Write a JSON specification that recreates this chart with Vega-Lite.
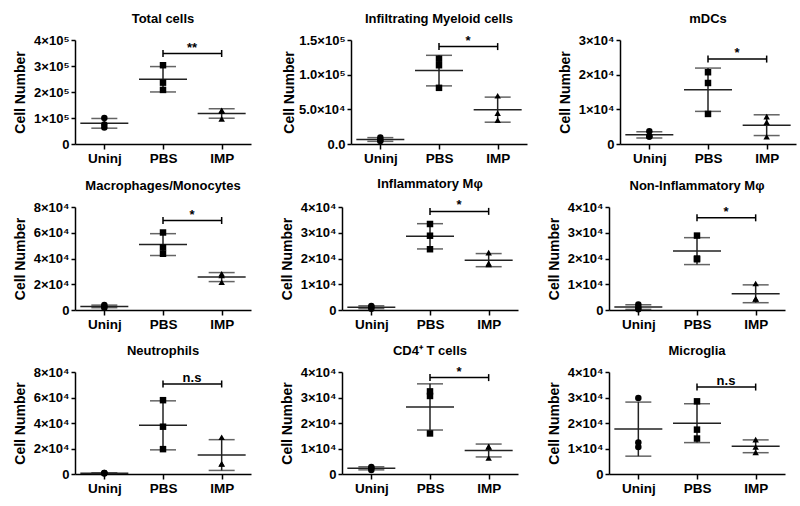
{
  "$schema": "https://vega.github.io/schema/vega-lite/v6.json",
  "background": "white",
  "padding": {"left": 13, "top": 13, "right": 5, "bottom": 5},
  "data": {"values": [
    {"panel": "Total cells", "group": "Uninj", "value": 100000},
    {"panel": "Total cells", "group": "Uninj", "value": 63500},
    {"panel": "Total cells", "group": "Uninj", "value": 75000},
    {"panel": "Total cells", "group": "PBS", "value": 303000},
    {"panel": "Total cells", "group": "PBS", "value": 236000},
    {"panel": "Total cells", "group": "PBS", "value": 208000},
    {"panel": "Total cells", "group": "IMP", "value": 130000},
    {"panel": "Total cells", "group": "IMP", "value": 96500},
    {"panel": "Total cells", "group": "IMP", "value": 125700},
    {"panel": "Total cells", "group": "PBS", "group2": "IMP", "value": 348000, "label": "**"},

    {"panel": "Infiltrating Myeloid cells", "group": "Uninj", "value": 9500},
    {"panel": "Infiltrating Myeloid cells", "group": "Uninj", "value": 4300},
    {"panel": "Infiltrating Myeloid cells", "group": "Uninj", "value": 5700},
    {"panel": "Infiltrating Myeloid cells", "group": "PBS", "value": 123000},
    {"panel": "Infiltrating Myeloid cells", "group": "PBS", "value": 113600},
    {"panel": "Infiltrating Myeloid cells", "group": "PBS", "value": 81000},
    {"panel": "Infiltrating Myeloid cells", "group": "IMP", "value": 69600},
    {"panel": "Infiltrating Myeloid cells", "group": "IMP", "value": 44500},
    {"panel": "Infiltrating Myeloid cells", "group": "IMP", "value": 34500},
    {"panel": "Infiltrating Myeloid cells", "group": "PBS", "group2": "IMP", "value": 140500, "label": "*"},

    {"panel": "mDCs", "group": "Uninj", "value": 3700},
    {"panel": "mDCs", "group": "Uninj", "value": 2140},
    {"panel": "mDCs", "group": "Uninj", "value": 2140},
    {"panel": "mDCs", "group": "PBS", "value": 20700},
    {"panel": "mDCs", "group": "PBS", "value": 17600},
    {"panel": "mDCs", "group": "PBS", "value": 8670},
    {"panel": "mDCs", "group": "IMP", "value": 7900},
    {"panel": "mDCs", "group": "IMP", "value": 6300},
    {"panel": "mDCs", "group": "IMP", "value": 2100},
    {"panel": "mDCs", "group": "PBS", "group2": "IMP", "value": 24500, "label": "*"},

    {"panel": "Macrophages/Monocytes", "group": "Uninj", "value": 3800},
    {"panel": "Macrophages/Monocytes", "group": "Uninj", "value": 1800},
    {"panel": "Macrophages/Monocytes", "group": "Uninj", "value": 2800},
    {"panel": "Macrophages/Monocytes", "group": "PBS", "value": 60200},
    {"panel": "Macrophages/Monocytes", "group": "PBS", "value": 48500},
    {"panel": "Macrophages/Monocytes", "group": "PBS", "value": 43700},
    {"panel": "Macrophages/Monocytes", "group": "IMP", "value": 28200},
    {"panel": "Macrophages/Monocytes", "group": "IMP", "value": 26900},
    {"panel": "Macrophages/Monocytes", "group": "IMP", "value": 21600},
    {"panel": "Macrophages/Monocytes", "group": "PBS", "group2": "IMP", "value": 69500, "label": "*"},

    {"panel": "Inflammatory Mφ", "group": "Uninj", "value": 1570},
    {"panel": "Inflammatory Mφ", "group": "Uninj", "value": 500},
    {"panel": "Inflammatory Mφ", "group": "Uninj", "value": 1180},
    {"panel": "Inflammatory Mφ", "group": "PBS", "value": 33400},
    {"panel": "Inflammatory Mφ", "group": "PBS", "value": 28850},
    {"panel": "Inflammatory Mφ", "group": "PBS", "value": 23600},
    {"panel": "Inflammatory Mφ", "group": "IMP", "value": 22300},
    {"panel": "Inflammatory Mφ", "group": "IMP", "value": 17700},
    {"panel": "Inflammatory Mφ", "group": "IMP", "value": 18100},
    {"panel": "Inflammatory Mφ", "group": "PBS", "group2": "IMP", "value": 38300, "label": "*"},

    {"panel": "Non-Inflammatory Mφ", "group": "Uninj", "value": 2100},
    {"panel": "Non-Inflammatory Mφ", "group": "Uninj", "value": 300},
    {"panel": "Non-Inflammatory Mφ", "group": "Uninj", "value": 1000},
    {"panel": "Non-Inflammatory Mφ", "group": "PBS", "value": 28900},
    {"panel": "Non-Inflammatory Mφ", "group": "PBS", "value": 19700},
    {"panel": "Non-Inflammatory Mφ", "group": "PBS", "value": 20000},
    {"panel": "Non-Inflammatory Mφ", "group": "IMP", "value": 10300},
    {"panel": "Non-Inflammatory Mφ", "group": "IMP", "value": 4300},
    {"panel": "Non-Inflammatory Mφ", "group": "IMP", "value": 4300},
    {"panel": "Non-Inflammatory Mφ", "group": "PBS", "group2": "IMP", "value": 35800, "label": "*"},

    {"panel": "Neutrophils", "group": "Uninj", "value": 800},
    {"panel": "Neutrophils", "group": "Uninj", "value": 300},
    {"panel": "Neutrophils", "group": "Uninj", "value": 800},
    {"panel": "Neutrophils", "group": "PBS", "value": 57900},
    {"panel": "Neutrophils", "group": "PBS", "value": 37100},
    {"panel": "Neutrophils", "group": "PBS", "value": 19500},
    {"panel": "Neutrophils", "group": "IMP", "value": 28800},
    {"panel": "Neutrophils", "group": "IMP", "value": 7800},
    {"panel": "Neutrophils", "group": "IMP", "value": 8000},
    {"panel": "Neutrophils", "group": "PBS", "group2": "IMP", "value": 70600, "label": "n.s"},

    {"panel": "CD4⁺ T cells", "group": "Uninj", "value": 2750},
    {"panel": "CD4⁺ T cells", "group": "Uninj", "value": 1570},
    {"panel": "CD4⁺ T cells", "group": "Uninj", "value": 2360},
    {"panel": "CD4⁺ T cells", "group": "PBS", "value": 32400},
    {"panel": "CD4⁺ T cells", "group": "PBS", "value": 30600},
    {"panel": "CD4⁺ T cells", "group": "PBS", "value": 15900},
    {"panel": "CD4⁺ T cells", "group": "IMP", "value": 10750},
    {"panel": "CD4⁺ T cells", "group": "IMP", "value": 10600},
    {"panel": "CD4⁺ T cells", "group": "IMP", "value": 6300},
    {"panel": "CD4⁺ T cells", "group": "PBS", "group2": "IMP", "value": 37800, "label": "*"},

    {"panel": "Microglia", "group": "Uninj", "value": 29800},
    {"panel": "Microglia", "group": "Uninj", "value": 12400},
    {"panel": "Microglia", "group": "Uninj", "value": 10600},
    {"panel": "Microglia", "group": "PBS", "value": 28500},
    {"panel": "Microglia", "group": "PBS", "value": 17400},
    {"panel": "Microglia", "group": "PBS", "value": 13900},
    {"panel": "Microglia", "group": "IMP", "value": 13500},
    {"panel": "Microglia", "group": "IMP", "value": 10600},
    {"panel": "Microglia", "group": "IMP", "value": 8500},
    {"panel": "Microglia", "group": "PBS", "group2": "IMP", "value": 34100, "label": "n.s"}
  ]},
  "spacing": 13,
  "vconcat": [
    {"spacing": 31, "hconcat": [
      {"title": "Total cells", "width": 176, "height": 104,
       "transform": [{"filter": "datum.panel === 'Total cells'"}],
       "encoding": {
         "x": {"field": "group", "type": "nominal", "title": null, "scale": {"type": "point", "padding": 0.5, "domain": ["Uninj", "PBS", "IMP"]}},
         "y": {"field": "value", "type": "quantitative", "title": "Cell Number", "scale": {"domain": [0, 400000], "nice": false}, "axis": {"values": [0, 100000, 200000, 300000, 400000], "labelExpr": "datum.value === 0 ? '0' : format(datum.value / 100000, 'd') + '×10⁵'"}}
       },
       "layer": [
         {"transform": [{"filter": "!datum.label"}], "mark": {"type": "errorbar", "extent": "stdev", "color": "#222", "thickness": 1.5, "ticks": {"size": 26, "thickness": 1.5, "color": "#222"}}},
         {"transform": [{"filter": "!datum.label"}], "mark": {"type": "tick", "size": 48, "thickness": 1.5, "color": "#222"}, "encoding": {"y": {"aggregate": "mean", "field": "value", "type": "quantitative", "title": "Cell Number"}}},
         {"transform": [{"filter": "!datum.label"}], "mark": {"type": "point", "filled": true, "color": "black", "opacity": 1, "size": 42}, "encoding": {"shape": {"field": "group", "type": "nominal", "scale": {"domain": ["Uninj", "PBS", "IMP"], "range": ["circle", "square", "triangle-up"]}, "legend": null}}},
         {"transform": [{"filter": "datum.label"}], "mark": {"type": "rule", "color": "black", "strokeWidth": 1.5}, "encoding": {"x2": {"field": "group2"}}},
         {"transform": [{"filter": "datum.label"}], "mark": {"type": "point", "shape": "stroke", "angle": 90, "size": 49, "strokeWidth": 1.5, "color": "black", "opacity": 1}},
         {"transform": [{"filter": "datum.label"}], "mark": {"type": "point", "shape": "stroke", "angle": 90, "size": 49, "strokeWidth": 1.5, "color": "black", "opacity": 1}, "encoding": {"x": {"field": "group2", "type": "nominal", "title": null}}},
         {"transform": [{"filter": "datum.label"}], "mark": {"type": "text", "dx": 29, "dy": -2, "baseline": "alphabetic", "align": "center", "fontSize": 13, "fontWeight": "bold", "color": "black"}, "encoding": {"text": {"field": "label"}}}
       ]},
      {"title": "Infiltrating Myeloid cells", "width": 176, "height": 104,
       "transform": [{"filter": "datum.panel === 'Infiltrating Myeloid cells'"}],
       "encoding": {
         "x": {"field": "group", "type": "nominal", "title": null, "scale": {"type": "point", "padding": 0.5, "domain": ["Uninj", "PBS", "IMP"]}},
         "y": {"field": "value", "type": "quantitative", "title": "Cell Number", "scale": {"domain": [0, 150000], "nice": false}, "axis": {"minExtent": 52, "maxExtent": 52, "values": [0, 50000, 100000, 150000], "labelExpr": "datum.value === 0 ? '0.0' : datum.value >= 100000 ? format(datum.value / 100000, '.1f') + '×10⁵' : format(datum.value / 10000, '.1f') + '×10⁴'"}}
       },
       "layer": [
         {"transform": [{"filter": "!datum.label"}], "mark": {"type": "errorbar", "extent": "stdev", "color": "#222", "thickness": 1.5, "ticks": {"size": 26, "thickness": 1.5, "color": "#222"}}},
         {"transform": [{"filter": "!datum.label"}], "mark": {"type": "tick", "size": 48, "thickness": 1.5, "color": "#222"}, "encoding": {"y": {"aggregate": "mean", "field": "value", "type": "quantitative", "title": "Cell Number"}}},
         {"transform": [{"filter": "!datum.label"}], "mark": {"type": "point", "filled": true, "color": "black", "opacity": 1, "size": 42}, "encoding": {"shape": {"field": "group", "type": "nominal", "scale": {"domain": ["Uninj", "PBS", "IMP"], "range": ["circle", "square", "triangle-up"]}, "legend": null}}},
         {"transform": [{"filter": "datum.label"}], "mark": {"type": "rule", "color": "black", "strokeWidth": 1.5}, "encoding": {"x2": {"field": "group2"}}},
         {"transform": [{"filter": "datum.label"}], "mark": {"type": "point", "shape": "stroke", "angle": 90, "size": 49, "strokeWidth": 1.5, "color": "black", "opacity": 1}},
         {"transform": [{"filter": "datum.label"}], "mark": {"type": "point", "shape": "stroke", "angle": 90, "size": 49, "strokeWidth": 1.5, "color": "black", "opacity": 1}, "encoding": {"x": {"field": "group2", "type": "nominal", "title": null}}},
         {"transform": [{"filter": "datum.label"}], "mark": {"type": "text", "dx": 29, "dy": -2, "baseline": "alphabetic", "align": "center", "fontSize": 13, "fontWeight": "bold", "color": "black"}, "encoding": {"text": {"field": "label"}}}
       ]},
      {"title": "mDCs", "width": 176, "height": 104,
       "transform": [{"filter": "datum.panel === 'mDCs'"}],
       "encoding": {
         "x": {"field": "group", "type": "nominal", "title": null, "scale": {"type": "point", "padding": 0.5, "domain": ["Uninj", "PBS", "IMP"]}},
         "y": {"field": "value", "type": "quantitative", "title": "Cell Number", "scale": {"domain": [0, 30000], "nice": false}, "axis": {"values": [0, 10000, 20000, 30000], "labelExpr": "datum.value === 0 ? '0' : format(datum.value / 10000, 'd') + '×10⁴'"}}
       },
       "layer": [
         {"transform": [{"filter": "!datum.label"}], "mark": {"type": "errorbar", "extent": "stdev", "color": "#222", "thickness": 1.5, "ticks": {"size": 26, "thickness": 1.5, "color": "#222"}}},
         {"transform": [{"filter": "!datum.label"}], "mark": {"type": "tick", "size": 48, "thickness": 1.5, "color": "#222"}, "encoding": {"y": {"aggregate": "mean", "field": "value", "type": "quantitative", "title": "Cell Number"}}},
         {"transform": [{"filter": "!datum.label"}], "mark": {"type": "point", "filled": true, "color": "black", "opacity": 1, "size": 42}, "encoding": {"shape": {"field": "group", "type": "nominal", "scale": {"domain": ["Uninj", "PBS", "IMP"], "range": ["circle", "square", "triangle-up"]}, "legend": null}}},
         {"transform": [{"filter": "datum.label"}], "mark": {"type": "rule", "color": "black", "strokeWidth": 1.5}, "encoding": {"x2": {"field": "group2"}}},
         {"transform": [{"filter": "datum.label"}], "mark": {"type": "point", "shape": "stroke", "angle": 90, "size": 49, "strokeWidth": 1.5, "color": "black", "opacity": 1}},
         {"transform": [{"filter": "datum.label"}], "mark": {"type": "point", "shape": "stroke", "angle": 90, "size": 49, "strokeWidth": 1.5, "color": "black", "opacity": 1}, "encoding": {"x": {"field": "group2", "type": "nominal", "title": null}}},
         {"transform": [{"filter": "datum.label"}], "mark": {"type": "text", "dx": 29, "dy": -2, "baseline": "alphabetic", "align": "center", "fontSize": 13, "fontWeight": "bold", "color": "black"}, "encoding": {"text": {"field": "label"}}}
       ]}
    ]},
    {"spacing": 29, "hconcat": [
      {"title": "Macrophages/Monocytes", "width": 176, "height": 103,
       "transform": [{"filter": "datum.panel === 'Macrophages/Monocytes'"}],
       "encoding": {
         "x": {"field": "group", "type": "nominal", "title": null, "scale": {"type": "point", "padding": 0.5, "domain": ["Uninj", "PBS", "IMP"]}},
         "y": {"field": "value", "type": "quantitative", "title": "Cell Number", "scale": {"domain": [0, 80000], "nice": false}, "axis": {"values": [0, 20000, 40000, 60000, 80000], "labelExpr": "datum.value === 0 ? '0' : format(datum.value / 10000, 'd') + '×10⁴'"}}
       },
       "layer": [
         {"transform": [{"filter": "!datum.label"}], "mark": {"type": "errorbar", "extent": "stdev", "color": "#222", "thickness": 1.5, "ticks": {"size": 26, "thickness": 1.5, "color": "#222"}}},
         {"transform": [{"filter": "!datum.label"}], "mark": {"type": "tick", "size": 48, "thickness": 1.5, "color": "#222"}, "encoding": {"y": {"aggregate": "mean", "field": "value", "type": "quantitative", "title": "Cell Number"}}},
         {"transform": [{"filter": "!datum.label"}], "mark": {"type": "point", "filled": true, "color": "black", "opacity": 1, "size": 42}, "encoding": {"shape": {"field": "group", "type": "nominal", "scale": {"domain": ["Uninj", "PBS", "IMP"], "range": ["circle", "square", "triangle-up"]}, "legend": null}}},
         {"transform": [{"filter": "datum.label"}], "mark": {"type": "rule", "color": "black", "strokeWidth": 1.5}, "encoding": {"x2": {"field": "group2"}}},
         {"transform": [{"filter": "datum.label"}], "mark": {"type": "point", "shape": "stroke", "angle": 90, "size": 49, "strokeWidth": 1.5, "color": "black", "opacity": 1}},
         {"transform": [{"filter": "datum.label"}], "mark": {"type": "point", "shape": "stroke", "angle": 90, "size": 49, "strokeWidth": 1.5, "color": "black", "opacity": 1}, "encoding": {"x": {"field": "group2", "type": "nominal", "title": null}}},
         {"transform": [{"filter": "datum.label"}], "mark": {"type": "text", "dx": 29, "dy": -2, "baseline": "alphabetic", "align": "center", "fontSize": 13, "fontWeight": "bold", "color": "black"}, "encoding": {"text": {"field": "label"}}}
       ]},
      {"title": "Inflammatory Mφ", "width": 176, "height": 103,
       "transform": [{"filter": "datum.panel === 'Inflammatory Mφ'"}],
       "encoding": {
         "x": {"field": "group", "type": "nominal", "title": null, "scale": {"type": "point", "padding": 0.5, "domain": ["Uninj", "PBS", "IMP"]}},
         "y": {"field": "value", "type": "quantitative", "title": "Cell Number", "scale": {"domain": [0, 40000], "nice": false}, "axis": {"values": [0, 10000, 20000, 30000, 40000], "labelExpr": "datum.value === 0 ? '0' : format(datum.value / 10000, 'd') + '×10⁴'"}}
       },
       "layer": [
         {"transform": [{"filter": "!datum.label"}], "mark": {"type": "errorbar", "extent": "stdev", "color": "#222", "thickness": 1.5, "ticks": {"size": 26, "thickness": 1.5, "color": "#222"}}},
         {"transform": [{"filter": "!datum.label"}], "mark": {"type": "tick", "size": 48, "thickness": 1.5, "color": "#222"}, "encoding": {"y": {"aggregate": "mean", "field": "value", "type": "quantitative", "title": "Cell Number"}}},
         {"transform": [{"filter": "!datum.label"}], "mark": {"type": "point", "filled": true, "color": "black", "opacity": 1, "size": 42}, "encoding": {"shape": {"field": "group", "type": "nominal", "scale": {"domain": ["Uninj", "PBS", "IMP"], "range": ["circle", "square", "triangle-up"]}, "legend": null}}},
         {"transform": [{"filter": "datum.label"}], "mark": {"type": "rule", "color": "black", "strokeWidth": 1.5}, "encoding": {"x2": {"field": "group2"}}},
         {"transform": [{"filter": "datum.label"}], "mark": {"type": "point", "shape": "stroke", "angle": 90, "size": 49, "strokeWidth": 1.5, "color": "black", "opacity": 1}},
         {"transform": [{"filter": "datum.label"}], "mark": {"type": "point", "shape": "stroke", "angle": 90, "size": 49, "strokeWidth": 1.5, "color": "black", "opacity": 1}, "encoding": {"x": {"field": "group2", "type": "nominal", "title": null}}},
         {"transform": [{"filter": "datum.label"}], "mark": {"type": "text", "dx": 29, "dy": -2, "baseline": "alphabetic", "align": "center", "fontSize": 13, "fontWeight": "bold", "color": "black"}, "encoding": {"text": {"field": "label"}}}
       ]},
      {"title": "Non-Inflammatory Mφ", "width": 176, "height": 103,
       "transform": [{"filter": "datum.panel === 'Non-Inflammatory Mφ'"}],
       "encoding": {
         "x": {"field": "group", "type": "nominal", "title": null, "scale": {"type": "point", "padding": 0.5, "domain": ["Uninj", "PBS", "IMP"]}},
         "y": {"field": "value", "type": "quantitative", "title": "Cell Number", "scale": {"domain": [0, 40000], "nice": false}, "axis": {"values": [0, 10000, 20000, 30000, 40000], "labelExpr": "datum.value === 0 ? '0' : format(datum.value / 10000, 'd') + '×10⁴'"}}
       },
       "layer": [
         {"transform": [{"filter": "!datum.label"}], "mark": {"type": "errorbar", "extent": "stdev", "color": "#222", "thickness": 1.5, "ticks": {"size": 26, "thickness": 1.5, "color": "#222"}}},
         {"transform": [{"filter": "!datum.label"}], "mark": {"type": "tick", "size": 48, "thickness": 1.5, "color": "#222"}, "encoding": {"y": {"aggregate": "mean", "field": "value", "type": "quantitative", "title": "Cell Number"}}},
         {"transform": [{"filter": "!datum.label"}], "mark": {"type": "point", "filled": true, "color": "black", "opacity": 1, "size": 42}, "encoding": {"shape": {"field": "group", "type": "nominal", "scale": {"domain": ["Uninj", "PBS", "IMP"], "range": ["circle", "square", "triangle-up"]}, "legend": null}}},
         {"transform": [{"filter": "datum.label"}], "mark": {"type": "rule", "color": "black", "strokeWidth": 1.5}, "encoding": {"x2": {"field": "group2"}}},
         {"transform": [{"filter": "datum.label"}], "mark": {"type": "point", "shape": "stroke", "angle": 90, "size": 49, "strokeWidth": 1.5, "color": "black", "opacity": 1}},
         {"transform": [{"filter": "datum.label"}], "mark": {"type": "point", "shape": "stroke", "angle": 90, "size": 49, "strokeWidth": 1.5, "color": "black", "opacity": 1}, "encoding": {"x": {"field": "group2", "type": "nominal", "title": null}}},
         {"transform": [{"filter": "datum.label"}], "mark": {"type": "text", "dx": 29, "dy": -2, "baseline": "alphabetic", "align": "center", "fontSize": 13, "fontWeight": "bold", "color": "black"}, "encoding": {"text": {"field": "label"}}}
       ]}
    ]},
    {"spacing": 29, "hconcat": [
      {"title": "Neutrophils", "width": 176, "height": 102,
       "transform": [{"filter": "datum.panel === 'Neutrophils'"}],
       "encoding": {
         "x": {"field": "group", "type": "nominal", "title": null, "scale": {"type": "point", "padding": 0.5, "domain": ["Uninj", "PBS", "IMP"]}},
         "y": {"field": "value", "type": "quantitative", "title": "Cell Number", "scale": {"domain": [0, 80000], "nice": false}, "axis": {"values": [0, 20000, 40000, 60000, 80000], "labelExpr": "datum.value === 0 ? '0' : format(datum.value / 10000, 'd') + '×10⁴'"}}
       },
       "layer": [
         {"transform": [{"filter": "!datum.label"}], "mark": {"type": "errorbar", "extent": "stdev", "color": "#222", "thickness": 1.5, "ticks": {"size": 26, "thickness": 1.5, "color": "#222"}}},
         {"transform": [{"filter": "!datum.label"}], "mark": {"type": "tick", "size": 48, "thickness": 1.5, "color": "#222"}, "encoding": {"y": {"aggregate": "mean", "field": "value", "type": "quantitative", "title": "Cell Number"}}},
         {"transform": [{"filter": "!datum.label"}], "mark": {"type": "point", "filled": true, "color": "black", "opacity": 1, "size": 42}, "encoding": {"shape": {"field": "group", "type": "nominal", "scale": {"domain": ["Uninj", "PBS", "IMP"], "range": ["circle", "square", "triangle-up"]}, "legend": null}}},
         {"transform": [{"filter": "datum.label"}], "mark": {"type": "rule", "color": "black", "strokeWidth": 1.5}, "encoding": {"x2": {"field": "group2"}}},
         {"transform": [{"filter": "datum.label"}], "mark": {"type": "point", "shape": "stroke", "angle": 90, "size": 49, "strokeWidth": 1.5, "color": "black", "opacity": 1}},
         {"transform": [{"filter": "datum.label"}], "mark": {"type": "point", "shape": "stroke", "angle": 90, "size": 49, "strokeWidth": 1.5, "color": "black", "opacity": 1}, "encoding": {"x": {"field": "group2", "type": "nominal", "title": null}}},
         {"transform": [{"filter": "datum.label"}], "mark": {"type": "text", "dx": 29, "dy": -2, "baseline": "alphabetic", "align": "center", "fontSize": 13, "fontWeight": "bold", "color": "black"}, "encoding": {"text": {"field": "label"}}}
       ]},
      {"title": "CD4⁺ T cells", "width": 176, "height": 102,
       "transform": [{"filter": "datum.panel === 'CD4⁺ T cells'"}],
       "encoding": {
         "x": {"field": "group", "type": "nominal", "title": null, "scale": {"type": "point", "padding": 0.5, "domain": ["Uninj", "PBS", "IMP"]}},
         "y": {"field": "value", "type": "quantitative", "title": "Cell Number", "scale": {"domain": [0, 40000], "nice": false}, "axis": {"values": [0, 10000, 20000, 30000, 40000], "labelExpr": "datum.value === 0 ? '0' : format(datum.value / 10000, 'd') + '×10⁴'"}}
       },
       "layer": [
         {"transform": [{"filter": "!datum.label"}], "mark": {"type": "errorbar", "extent": "stdev", "color": "#222", "thickness": 1.5, "ticks": {"size": 26, "thickness": 1.5, "color": "#222"}}},
         {"transform": [{"filter": "!datum.label"}], "mark": {"type": "tick", "size": 48, "thickness": 1.5, "color": "#222"}, "encoding": {"y": {"aggregate": "mean", "field": "value", "type": "quantitative", "title": "Cell Number"}}},
         {"transform": [{"filter": "!datum.label"}], "mark": {"type": "point", "filled": true, "color": "black", "opacity": 1, "size": 42}, "encoding": {"shape": {"field": "group", "type": "nominal", "scale": {"domain": ["Uninj", "PBS", "IMP"], "range": ["circle", "square", "triangle-up"]}, "legend": null}}},
         {"transform": [{"filter": "datum.label"}], "mark": {"type": "rule", "color": "black", "strokeWidth": 1.5}, "encoding": {"x2": {"field": "group2"}}},
         {"transform": [{"filter": "datum.label"}], "mark": {"type": "point", "shape": "stroke", "angle": 90, "size": 49, "strokeWidth": 1.5, "color": "black", "opacity": 1}},
         {"transform": [{"filter": "datum.label"}], "mark": {"type": "point", "shape": "stroke", "angle": 90, "size": 49, "strokeWidth": 1.5, "color": "black", "opacity": 1}, "encoding": {"x": {"field": "group2", "type": "nominal", "title": null}}},
         {"transform": [{"filter": "datum.label"}], "mark": {"type": "text", "dx": 29, "dy": -2, "baseline": "alphabetic", "align": "center", "fontSize": 13, "fontWeight": "bold", "color": "black"}, "encoding": {"text": {"field": "label"}}}
       ]},
      {"title": "Microglia", "width": 176, "height": 102,
       "transform": [{"filter": "datum.panel === 'Microglia'"}],
       "encoding": {
         "x": {"field": "group", "type": "nominal", "title": null, "scale": {"type": "point", "padding": 0.5, "domain": ["Uninj", "PBS", "IMP"]}},
         "y": {"field": "value", "type": "quantitative", "title": "Cell Number", "scale": {"domain": [0, 40000], "nice": false}, "axis": {"values": [0, 10000, 20000, 30000, 40000], "labelExpr": "datum.value === 0 ? '0' : format(datum.value / 10000, 'd') + '×10⁴'"}}
       },
       "layer": [
         {"transform": [{"filter": "!datum.label"}], "mark": {"type": "errorbar", "extent": "stdev", "color": "#222", "thickness": 1.5, "ticks": {"size": 26, "thickness": 1.5, "color": "#222"}}},
         {"transform": [{"filter": "!datum.label"}], "mark": {"type": "tick", "size": 48, "thickness": 1.5, "color": "#222"}, "encoding": {"y": {"aggregate": "mean", "field": "value", "type": "quantitative", "title": "Cell Number"}}},
         {"transform": [{"filter": "!datum.label"}], "mark": {"type": "point", "filled": true, "color": "black", "opacity": 1, "size": 42}, "encoding": {"shape": {"field": "group", "type": "nominal", "scale": {"domain": ["Uninj", "PBS", "IMP"], "range": ["circle", "square", "triangle-up"]}, "legend": null}}},
         {"transform": [{"filter": "datum.label"}], "mark": {"type": "rule", "color": "black", "strokeWidth": 1.5}, "encoding": {"x2": {"field": "group2"}}},
         {"transform": [{"filter": "datum.label"}], "mark": {"type": "point", "shape": "stroke", "angle": 90, "size": 49, "strokeWidth": 1.5, "color": "black", "opacity": 1}},
         {"transform": [{"filter": "datum.label"}], "mark": {"type": "point", "shape": "stroke", "angle": 90, "size": 49, "strokeWidth": 1.5, "color": "black", "opacity": 1}, "encoding": {"x": {"field": "group2", "type": "nominal", "title": null}}},
         {"transform": [{"filter": "datum.label"}], "mark": {"type": "text", "dx": 29, "dy": -2, "baseline": "alphabetic", "align": "center", "fontSize": 13, "fontWeight": "bold", "color": "black"}, "encoding": {"text": {"field": "label"}}}
       ]}
    ]}
  ],
  "config": {
    "font": "Liberation Sans",
    "view": {"stroke": null},
    "axis": {"grid": false, "domainColor": "black", "domainWidth": 1.5, "tickColor": "black", "tickWidth": 1.5, "labelFont": "Liberation Sans", "labelFontWeight": "bold", "labelColor": "black", "titleFont": "Liberation Sans", "titleFontWeight": "bold", "titleColor": "black"},
    "axisX": {"labelFontSize": 13.5, "tickSize": 5, "labelAngle": 0, "labelPadding": 2},
    "axisY": {"labelFontSize": 13, "tickSize": 4, "labelPadding": 2, "titleFontSize": 14, "minExtent": 45, "maxExtent": 45, "titlePadding": 3},
    "title": {"font": "Liberation Sans", "fontSize": 13, "fontWeight": "bold", "color": "black", "frame": "group", "anchor": "middle", "offset": 8}
  }
}
